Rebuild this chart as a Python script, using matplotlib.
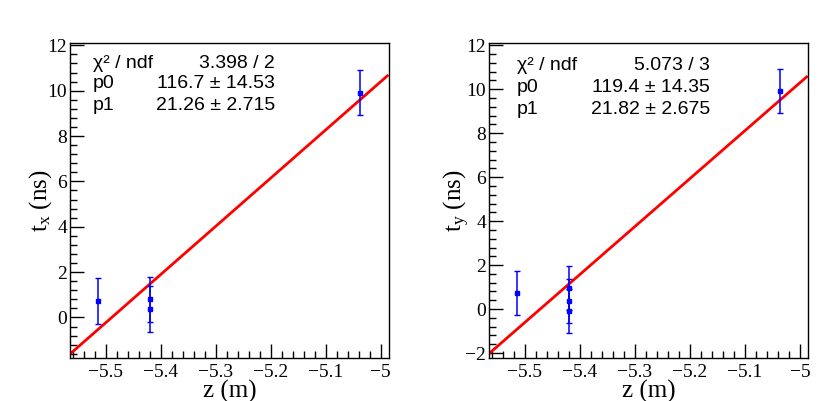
import numpy as np
import matplotlib
matplotlib.use('Agg')
import matplotlib.pyplot as plt
from matplotlib.ticker import MultipleLocator, FuncFormatter

# measured points (z in m, t in ns), error of 1 ns each
zx = [-5.515, -5.42, -5.42, -5.037]
tx = [0.73, 0.80, 0.38, 9.92]
ex = [1.0, 1.0, 1.0, 1.0]

zy = [-5.515, -5.42, -5.42, -5.42, -5.037]
ty = [0.73, 0.96, 0.38, -0.07, 9.92]
ey = [1.0, 1.0, 1.0, 1.0, 1.0]

# fit results
fit_x = {'chi2': '3.398 / 2', 'p0': 116.7, 'p1': 21.26, 'p0s': '116.7 \u00b1 14.53', 'p1s': '21.26 \u00b1 2.715'}
fit_y = {'chi2': '5.073 / 3', 'p0': 119.4, 'p1': 21.82, 'p0s': '119.4 \u00b1 14.35', 'p1s': '21.82 \u00b1 2.675'}

serif = 'Liberation Serif'
sans = 'Liberation Sans'

plt.rcParams['font.family'] = serif
plt.rcParams['xtick.labelsize'] = 14
plt.rcParams['ytick.labelsize'] = 14
plt.rcParams['mathtext.fontset'] = 'custom'
plt.rcParams['mathtext.rm'] = serif
plt.rcParams['mathtext.it'] = serif + ':italic'

fig = plt.figure(figsize=(8.30, 4.01), dpi=100)
ax1 = fig.add_axes([70/830, 1-358.3/401, 319/830, 315/401])
ax2 = fig.add_axes([489/830, 1-358.3/401, 319.3/830, 315/401])

fmt = FuncFormatter(lambda v, p: ('%g' % round(v, 3)).replace('-', '\u2212'))


def draw(ax, z, t, e, fit, ylim, ylab, txtpos):
    xlim = (-5.565, -4.985)
    ax.errorbar(z, t, yerr=e, fmt='s', color='blue', ms=3.2, elinewidth=1.1,
                capsize=2, capthick=1.0, zorder=3)
    zz = np.array([xlim[0] + 0.002, xlim[1] - 0.003])
    ax.plot(zz, fit['p0'] + fit['p1'] * zz, color='red', lw=2.0, zorder=2)
    ax.set_xlim(*xlim)
    ax.set_ylim(*ylim)
    ax.xaxis.set_major_locator(MultipleLocator(0.1))
    ax.xaxis.set_minor_locator(MultipleLocator(0.02))
    ax.yaxis.set_major_locator(MultipleLocator(2))
    ax.yaxis.set_minor_locator(MultipleLocator(0.4))
    ax.xaxis.set_major_formatter(fmt)
    ax.yaxis.set_major_formatter(fmt)
    ax.tick_params(which='both', direction='in', top=False, right=False)
    ax.tick_params(which='major', length=10, width=1)
    ax.tick_params(which='minor', length=5, width=1)
    ax.tick_params(axis='x', pad=4)
    ax.tick_params(axis='y', pad=2)
    ax.set_xlabel('z (m)', fontsize=18, labelpad=-1)
    ax.set_ylabel(ylab, fontsize=18, labelpad=-5)
    for sp in ax.spines.values():
        sp.set_linewidth(1)

    lx, rx, rows = txtpos
    names = ['\u03c7\u00b2 / ndf', 'p0', 'p1']
    vals = [fit['chi2'], fit['p0s'], fit['p1s']]
    for n, v, yy in zip(names, vals, rows):
        ax.text(lx, yy, n, transform=ax.transAxes, fontfamily=sans, fontsize=14,
                ha='left', va='center')
        ax.text(rx, yy, v, transform=ax.transAxes, fontfamily=sans, fontsize=14,
                ha='right', va='center')


draw(ax1, zx, tx, ex, fit_x, (-1.8, 12.09), '$\\mathregular{t_x}$ (ns)',
     (0.071, 0.643, [0.937, 0.871, 0.804]))
draw(ax2, zy, ty, ey, fit_y, (-2.24, 12.09), '$\\mathregular{t_y}$ (ns)',
     (0.087, 0.693, [0.931, 0.860, 0.790]))

fig.savefig('out.png', dpi=100)
